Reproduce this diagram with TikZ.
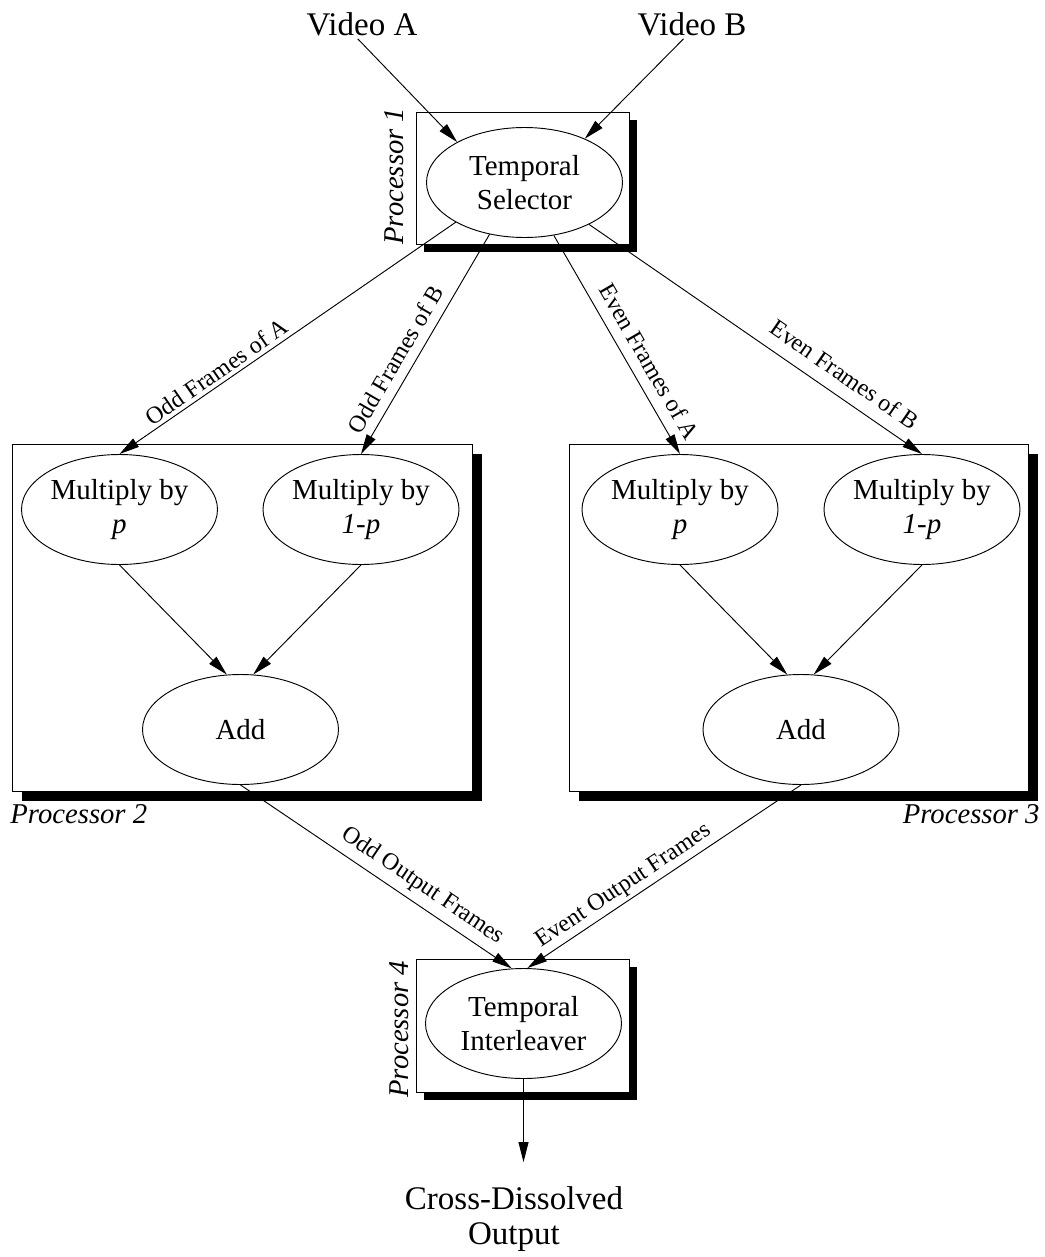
\documentclass[tikz,border=0pt]{standalone}
\usepackage{fontspec}
\setmainfont{Liberation Serif}
\usetikzlibrary{arrows.meta,shapes.geometric,shadows}
\begin{document}
\begin{tikzpicture}[x=0.75pt,y=-0.75pt,line width=0.7pt,
  procbox/.style={draw=black, fill=white, rectangle, inner sep=0pt,
    drop shadow={shadow xshift=#1, shadow yshift=-#1, fill=black, opacity=1}},
  task/.style={draw, ellipse, fill=white, inner sep=0pt, minimum width=147pt,
    minimum height=82.5pt, align=center, font=\fontsize{21.75pt}{25.5pt}\selectfont},
  flow/.style={-{Triangle[length=15pt,width=7.5pt]}},
  flowlabel/.style={sloped, inner sep=0pt, font=\fontsize{18pt}{21pt}\selectfont},
  proclabel/.style={inner sep=0pt, font=\fontsize{21.5pt}{25pt}\selectfont\itshape},
  io/.style={inner sep=0pt, align=center, font=\fontsize{24.75pt}{26.25pt}\selectfont}
]
\useasboundingbox (0,0) rectangle (1045,1257);

% processor frames with solid drop shadows
\node[procbox=6pt, minimum width=159.75pt, minimum height=99pt] (p1) at (522.5,178) {};
\node[procbox=7.5pt, minimum width=345pt, minimum height=260.25pt] (p2) at (242,617.5) {};
\node[procbox=7.5pt, minimum width=344.25pt, minimum height=260.25pt] (p3) at (798.5,617.5) {};
\node[procbox=6pt, minimum width=159.75pt, minimum height=99.75pt] (p4) at (522.5,1025.5) {};

% processor captions
\node[proclabel, rotate=90, anchor=base west] (l1) at (403,245) {Processor 1};
\node[proclabel, anchor=base west] (l2) at (10,823) {Processor 2};
\node[proclabel, anchor=base east] (l3) at (1040,823) {Processor 3};
\node[proclabel, rotate=90, anchor=base west] (l4) at (408,1098) {Processor 4};

% inputs and output
\node[io, anchor=base] (va) at (362,35) {Video A};
\node[io, anchor=base] (vb) at (692,35) {Video B};
\node[io] (out) at (514,1219) {Cross-Dissolved\\Output};

% operations
\node[task] (sel) at (524.5,182.5) {Temporal\\Selector};
\node[task] (mpA) at (119.5,509.5) {Multiply by\\\textit{p}};
\node[task] (mqA) at (361,509.5) {Multiply by\\\textit{1-p}};
\node[task] (addA) at (240.5,729.5) {Add};
\node[task] (mpB) at (680,509.5) {Multiply by\\\textit{p}};
\node[task] (mqB) at (922,509.5) {Multiply by\\\textit{1-p}};
\node[task] (addB) at (801,729.5) {Add};
\node[task] (inter) at (523.5,1023.5) {Temporal\\Interleaver};

% data flow
\draw[flow, shorten <=3pt] (va.240) -- (sel.149);
\draw[flow, shorten <=3pt] (vb.245) -- (sel.36);

\draw[flow] (sel.210) -- node[flowlabel, pos=0.69, above=2.7pt] {Odd Frames of A} (mpA.north);
\draw[flow] (sel.236) -- node[flowlabel, pos=0.61, above=6.8pt] {Odd Frames of B} (mqA.north);
\draw[flow] (sel.-61) -- node[flowlabel, pos=0.62, above=8pt] {Even Frames of A} (mpB.north);
\draw[flow] (sel.-33) -- node[flowlabel, pos=0.73, above=9.4pt] {Even Frames of B} (mqB.north);

\draw[flow] (mpA.south) -- (addA.104);
\draw[flow] (mqA.south) -- (addA.77);
\draw[flow] (mpB.south) -- (addB.104);
\draw[flow] (mqB.south) -- (addB.77);

\draw[flow] (addA.south) -- node[flowlabel, pos=0.634, above=5.3pt] {Odd Output Frames} (inter.102);
\draw[flow] (addB.south) -- node[flowlabel, pos=0.618, above=2.4pt] {Event Output Frames} (inter.86);

\draw[flow, shorten >=18pt] (inter.south) -- (inter.south |- out.north);
\end{tikzpicture}
\end{document}
